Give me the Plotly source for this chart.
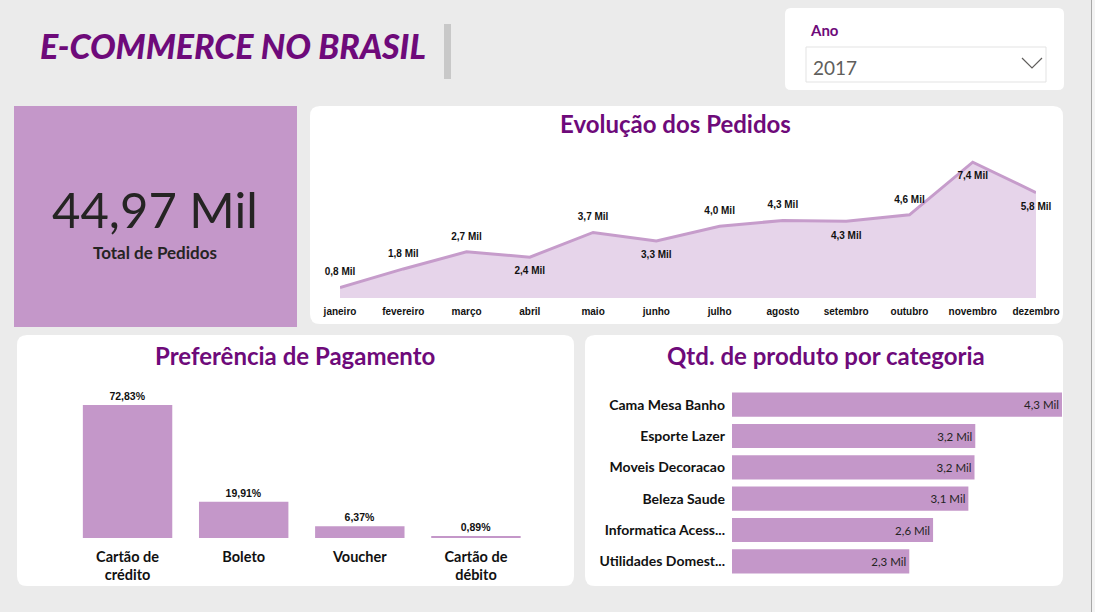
import plotly.graph_objects as go

W, H = 1095, 612

# ---------------- data ----------------
meses = ["janeiro", "fevereiro", "março", "abril", "maio", "junho", "julho",
         "agosto", "setembro", "outubro", "novembro", "dezembro"]
pedidos_mil = [0.80, 1.78, 2.68, 2.40, 3.70, 3.25, 4.03, 4.33, 4.29, 4.63, 7.40, 5.80]

pagamentos = ["Cartão de<br>crédito", "Boleto", "Voucher", "Cartão de<br>débito"]
pagamentos_pct = [72.83, 19.91, 6.37, 0.89]

categorias = ["Cama Mesa Banho", "Esporte Lazer", "Moveis Decoracao", "Beleza Saude",
              "Informatica Acess...", "Utilidades Domest..."]
categorias_mil = [4.30, 3.17, 3.16, 3.08, 2.62, 2.31]

total_pedidos = "44,97 Mil"
ano = "2017"

# ---------------- helpers ----------------
def X(px):
    return px / W

def Y(py):
    return 1 - py / H

def rrect(x0, y0, x1, y1, r, fill, line=None):
    p = (f"M {X(x0+r)},{Y(y0)} L {X(x1-r)},{Y(y0)} Q {X(x1)},{Y(y0)} {X(x1)},{Y(y0+r)} "
         f"L {X(x1)},{Y(y1-r)} Q {X(x1)},{Y(y1)} {X(x1-r)},{Y(y1)} "
         f"L {X(x0+r)},{Y(y1)} Q {X(x0)},{Y(y1)} {X(x0)},{Y(y1-r)} "
         f"L {X(x0)},{Y(y0+r)} Q {X(x0)},{Y(y0)} {X(x0+r)},{Y(y0)} Z")
    return dict(type="path", path=p, xref="paper", yref="paper", fillcolor=fill,
                line=dict(width=1 if line else 0, color=line or fill), layer="below")

PURPLE = "#6E0A7A"
BAR = "#C497C9"
TITLE_FONT = "Lato"
LABEL_FONT = "Liberation Sans"

fig = go.Figure()

# ---------------- line chart ----------------
pos = ["top center"] * 12
for i in (3, 5, 8, 10, 11):
    pos[i] = "bottom center"
fig.add_trace(go.Scatter(
    x=meses, y=pedidos_mil, mode="lines+markers+text", fill="tozeroy",
    line=dict(color="#C69CCB", width=3), fillcolor="#E6D4EA",
    marker=dict(size=14, color="rgba(0,0,0,0)", line=dict(width=0)),
    texttemplate="%{y:.1f} Mil", textposition=pos,
    textfont=dict(family=LABEL_FONT, size=10, color="#111111", weight="bold"),
    cliponaxis=False, hoverinfo="skip", xaxis="x", yaxis="y"))

# ---------------- payment bars ----------------
fig.add_trace(go.Bar(
    x=pagamentos, y=pagamentos_pct, marker=dict(color=BAR, line=dict(width=0)),
    width=0.77, texttemplate="%{y:.2f}%", textposition="outside",
    textfont=dict(family=LABEL_FONT, size=10.5, color="#111111", weight="bold"),
    cliponaxis=False, hoverinfo="skip", xaxis="x2", yaxis="y2"))

# ---------------- category bars ----------------
fig.add_trace(go.Bar(
    y=categorias, x=categorias_mil, orientation="h",
    marker=dict(color=BAR, line=dict(width=0)), width=0.77,
    texttemplate="%{x:.1f} Mil", textposition="inside", insidetextanchor="end",
    textfont=dict(family=TITLE_FONT, size=11.5, color="#252423"),
    cliponaxis=False, hoverinfo="skip", xaxis="x3", yaxis="y3"))

# ---------------- shapes (cards) ----------------
shapes = [
    rrect(785, 8, 1064, 90, 6, "white"),
    rrect(14, 106, 297, 327, 0, "#C497C9"),
    rrect(310, 106, 1063, 324, 10, "white"),
    rrect(17, 335, 574, 586, 10, "white"),
    rrect(585, 335, 1063, 586, 10, "white"),
    dict(type="rect", xref="paper", yref="paper", x0=X(806), x1=X(1046), y0=Y(47), y1=Y(82),
         fillcolor="white", line=dict(color="#E3E3E3", width=1)),
    dict(type="rect", xref="paper", yref="paper", x0=X(444), x1=X(451), y0=Y(24), y1=Y(79),
         fillcolor="#C8C8C8", line=dict(width=0)),
    dict(type="path", xref="paper", yref="paper",
         path=f"M {X(1022)},{Y(58)} L {X(1032)},{Y(68)} L {X(1042)},{Y(58)}",
         line=dict(color="#605E5C", width=1.2)),
    dict(type="line", xref="paper", yref="paper", x0=X(1091.5), x1=X(1091.5), y0=0, y1=1,
         line=dict(color="#A8A8A8", width=1)),
    dict(type="rect", xref="paper", yref="paper", x0=X(1092), x1=1, y0=0, y1=1,
         fillcolor="#F3F3F3", line=dict(width=0)),
]

annotations = [
    dict(text="E-COMMERCE NO BRASIL", x=X(38), y=Y(46), xanchor="left", yanchor="middle",
         font=dict(family=TITLE_FONT, size=34, color=PURPLE, weight=900, style="italic")),
    dict(text="Ano", x=X(808), y=Y(30), xanchor="left", yanchor="middle",
         font=dict(family=TITLE_FONT, size=15, color=PURPLE, weight="bold")),
    dict(text=ano, x=X(811), y=Y(67), xanchor="left", yanchor="middle",
         font=dict(family=TITLE_FONT, size=19, color="#605E5C")),
    dict(text=total_pedidos, x=X(155), y=Y(209), xanchor="center", yanchor="middle",
         font=dict(family=TITLE_FONT, size=49, color="#252423")),
    dict(text="Total de Pedidos", x=X(155), y=Y(252), xanchor="center", yanchor="middle",
         font=dict(family=TITLE_FONT, size=17, color="#252423", weight="bold")),
    dict(text="Evolução dos Pedidos", x=X(675), y=Y(124), xanchor="center", yanchor="middle",
         font=dict(family=TITLE_FONT, size=24, color=PURPLE, weight="bold")),
    dict(text="Preferência de Pagamento", x=X(295), y=Y(355), xanchor="center", yanchor="middle",
         font=dict(family=TITLE_FONT, size=24, color=PURPLE, weight="bold")),
    dict(text="Qtd. de produto por categoria", x=X(826), y=Y(355), xanchor="center", yanchor="middle",
         font=dict(family=TITLE_FONT, size=24, color=PURPLE, weight="bold")),
]
for a in annotations:
    a.update(xref="paper", yref="paper", showarrow=False)

noaxis = dict(showgrid=False, zeroline=False, showline=False, ticks="", automargin=False)

fig.update_layout(
    width=W, height=H, margin=dict(l=0, r=0, t=0, b=0, autoexpand=False),
    paper_bgcolor="#EBEBEB", plot_bgcolor="rgba(0,0,0,0)",
    separators=",.", showlegend=False, shapes=shapes, annotations=annotations,
    xaxis=dict(domain=[X(340), X(1036)], range=[0, 11], type="category", anchor="y",
               ticklabelstandoff=6,
               tickfont=dict(family=LABEL_FONT, size=10, color="#111111", weight="bold"),
               **noaxis),
    yaxis=dict(domain=[Y(298), Y(150)], range=[0.25, 8.04], showticklabels=False,
               anchor="x", **noaxis),
    xaxis2=dict(domain=[X(69.5), X(534)], range=[-0.5, 3.5], type="category", anchor="y2",
                ticklabelstandoff=8,
                tickfont=dict(family=TITLE_FONT, size=14.5, color="#111111", weight="bold"),
                **noaxis),
    yaxis2=dict(domain=[Y(538), Y(380)], range=[0, 86.5], showticklabels=False,
                anchor="x2", **noaxis),
    xaxis3=dict(domain=[X(732), X(1062)], range=[0, 4.3], showticklabels=False,
                anchor="y3", **noaxis),
    yaxis3=dict(domain=[Y(577), Y(389)], autorange="reversed", type="category",
                anchor="x3", ticklabelstandoff=6,
                tickfont=dict(family=TITLE_FONT, size=14, color="#111111", weight="bold"),
                **noaxis),
)

fig.write_html("out.html")
